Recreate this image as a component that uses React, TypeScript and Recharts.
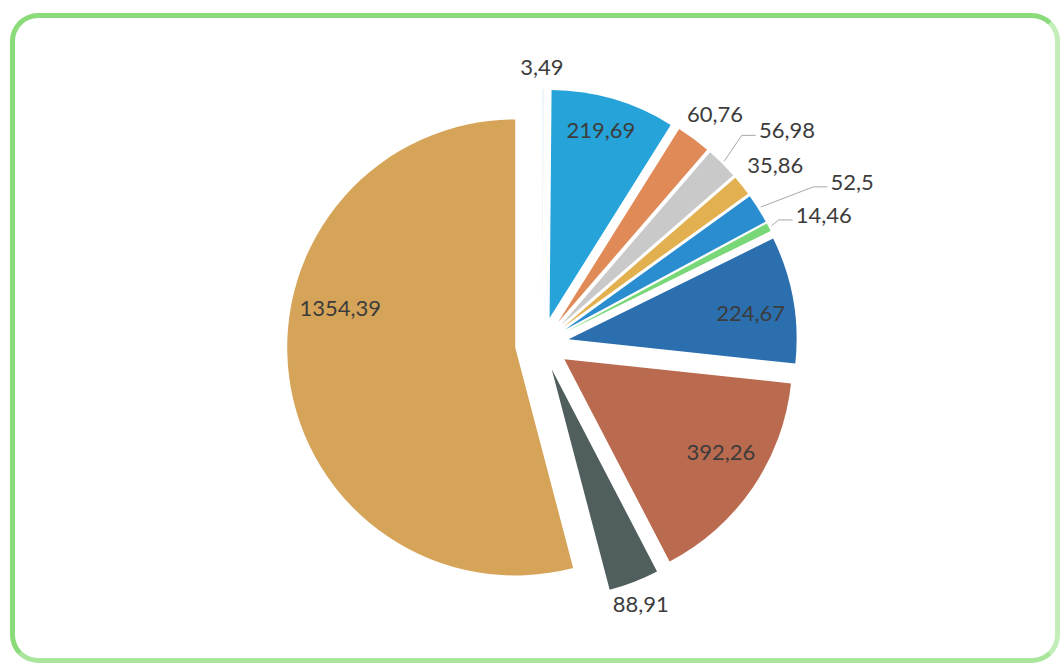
import { PieChart, Pie, Sector } from 'recharts';

// values, clockwise from 12 o'clock
const sliceNames = ['P1', 'P2', 'P3', 'P4', 'P5', 'P6', 'P7', 'P8', 'P9', 'P10', 'P11'];
const sliceValues = [3.49, 219.69, 60.76, 56.98, 35.86, 52.5, 14.46, 224.67, 392.26, 88.91, 1354.39];
const sliceColors = [
  '#eef5f9', '#26a3d9', '#e08a58', '#c9c9c9', '#e2b04f', '#2a8dcf',
  '#78d878', '#2b6fae', '#ba6a4e', '#505e5d', '#d6a459',
];

// label placement (clockwise degrees from top, distance from pie centre)
const labelAngles = [0, 15.4, 36.9, 48.9, 52.5, 62.4, 65.4, 81.6, 121.1, 159.2, 280.1];
const labelRadii = [277, 222, 288, 325, 294, 350, 310, 211, 209, 278, 205];
const withLeader = [false, false, false, true, false, true, true, false, false, false, false];

const data = sliceNames.map((name, i) => ({ name, value: sliceValues[i] }));

const EXPLODE = 27;
const RAD = Math.PI / 180;
const FONT = 22;

function ExplodedSlice(props: any) {
  const { cx, cy, innerRadius, outerRadius, startAngle, endAngle, midAngle, index, value } = props;
  const ox = EXPLODE * Math.cos(-midAngle * RAD);
  const oy = EXPLODE * Math.sin(-midAngle * RAD);
  const a = labelAngles[index] * RAD;
  const lx = cx + labelRadii[index] * Math.sin(a);
  const ly = cy - labelRadii[index] * Math.cos(a);
  const text = String(value).replace('.', ',');

  let leader = null;
  if (withLeader[index]) {
    const sx = cx + ox + (outerRadius + 3) * Math.cos(-midAngle * RAD);
    const sy = cy + oy + (outerRadius + 3) * Math.sin(-midAngle * RAD);
    const half = ((text.length - 1) * FONT * 0.58 + FONT * 0.24) / 2;
    const ex = lx - half - 3;
    const ey = ly + 5;
    leader = (
      <polyline
        points={`${sx},${sy} ${ex - 14},${ey} ${ex},${ey}`}
        fill="none"
        stroke="#a8a8a8"
        strokeWidth={1}
      />
    );
  }

  return (
    <g>
      <Sector
        cx={cx + ox}
        cy={cy + oy}
        innerRadius={innerRadius}
        outerRadius={outerRadius}
        startAngle={startAngle}
        endAngle={endAngle}
        fill={sliceColors[index]}
        stroke="none"
      />
      {leader}
      <text
        x={lx}
        y={ly + FONT * 0.36}
        textAnchor="middle"
        fontFamily="Lato, 'Open Sans', sans-serif"
        fontSize={FONT}
        fill="#3c3c3c"
      >
        {text}
      </text>
    </g>
  );
}

export default function App() {
  return (
    <div style={{ position: 'absolute', left: 0, top: 0, width: 1062, height: 665, background: '#fff' }}>
      <div
        style={{
          position: 'absolute',
          left: 10,
          top: 13,
          width: 1050,
          height: 650,
          boxSizing: 'border-box',
          border: '5px solid #8bdb7b',
          borderRightColor: '#c3eeb9',
          borderBottomColor: '#a9e69c',
          borderRadius: 28,
        }}
      />
      <div style={{ position: 'absolute', left: 0, top: 0 }}>
        <PieChart width={1062} height={665} margin={{ top: 0, right: 0, bottom: 0, left: 0 }}>
          <Pie
            data={data}
            dataKey="value"
            nameKey="name"
            cx={542}
            cy={344}
            innerRadius={0}
            outerRadius={228}
            startAngle={90}
            endAngle={-270}
            fill="none"
            stroke="none"
            label={ExplodedSlice}
            labelLine={false}
            isAnimationActive={false}
          />
        </PieChart>
      </div>
    </div>
  );
}
